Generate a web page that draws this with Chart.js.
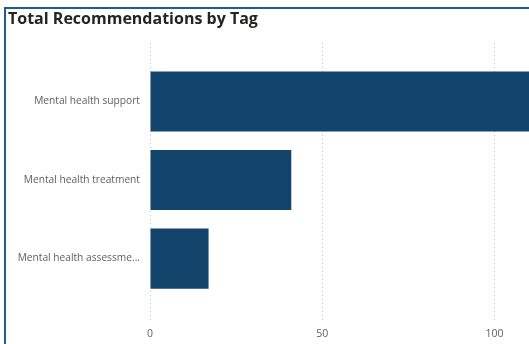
<!DOCTYPE html>
<html>
<head>
<meta charset="utf-8">
<script src="https://cdn.jsdelivr.net/npm/chart.js@4/dist/chart.umd.min.js"></script>
<style>
  html, body { margin: 0; padding: 0; background: #fff; overflow: hidden; }
  #wrap { position: relative; width: 529px; height: 344px; }
  #frame { position: absolute; left: 4px; top: 7px; right: -4px; bottom: -4px;
           border-left: 2px solid #1e5d8c; border-top: 2px solid #1e5d8c; }
  canvas { position: absolute; left: 0; top: 0; }
</style>
</head>
<body>
<div id="wrap">
  <div id="frame"></div>
  <canvas id="tagChart" width="529" height="344"></canvas>
</div>
<script>
// データ
const categories = ['Mental health support', 'Mental health treatment', 'Mental health assessment'];
const recommendations = [125, 41, 17];
const xTicks = [0, 50, 100];

const labelColor = '#605e5c';

let ctx = document.getElementById('tagChart').getContext('2d');
let chart = new Chart(ctx, {
    type: 'bar',
    data: {
        datasets: [{
            label: 'Total Recommendations',
            data: recommendations.map((v, i) => ({ x: v, y: i })),
            backgroundColor: '#13446c',
            borderWidth: 0,
            barPercentage: 1,
            categoryPercentage: 0.765
        }]
    },
    options: {
        indexAxis: 'y',
        responsive: false,
        animation: false,
        layout: { padding: { left: 8, right: 0, top: 0, bottom: 0 } },
        plugins: {
            legend: { display: false },
            tooltip: { enabled: false },
            title: {
                display: true,
                align: 'start',
                text: 'Total Recommendations by Tag',
                color: '#252423',
                font: { family: 'Open Sans', size: 16, weight: 'bold' },
                padding: { top: 10, bottom: 13.8 }
            }
        },
        scales: {
            x: {
                type: 'linear',
                min: 0,
                max: 110,
                afterBuildTicks: (scale) => { scale.ticks = xTicks.map(v => ({ value: v })); },
                afterFit: (scale) => { scale.height = 21; },
                grid: { color: '#c8c8c8', lineWidth: 1, drawTicks: false },
                border: { display: false, dash: [1, 3] },
                ticks: {
                    padding: 5,
                    color: labelColor,
                    font: { family: 'Open Sans', size: 10.5 }
                }
            },
            y: {
                type: 'linear',
                reverse: true,
                offset: false,
                min: -0.745,
                max: 2.82,
                afterBuildTicks: (scale) => { scale.ticks = categories.map((c, i) => ({ value: i })); },
                afterFit: (scale) => { scale.width = 142; },
                grid: { display: false, drawTicks: false, offset: false },
                border: { display: false },
                ticks: {
                    padding: 10,
                    color: labelColor,
                    font: { family: 'Open Sans', size: 10.2 },
                    callback: function(value) {
                        let name = categories[value];
                        if (name === undefined) return '';
                        // 長いラベルは省略
                        return name.length > 23 ? name.slice(0, 22) + '...' : name;
                    }
                }
            }
        }
    }
});
</script>
</body>
</html>
